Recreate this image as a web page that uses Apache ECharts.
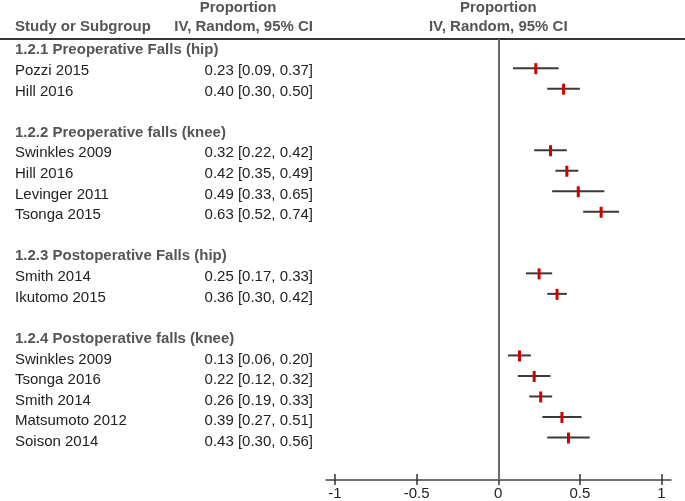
<!DOCTYPE html>
<html>
<head>
<meta charset="utf-8">
<script src="https://cdn.jsdelivr.net/npm/echarts@6/dist/echarts.min.js"></script>
<style>
html,body{margin:0;padding:0;background:#fff;}
#chart{width:685px;height:501px;}
</style>
</head>
<body>
<div id="chart"></div>
<script>
// ---- data ----
var groupTitles = [
  '1.2.1 Preoperative Falls (hip)',
  '1.2.2 Preoperative falls (knee)',
  '1.2.3 Postoperative Falls (hip)',
  '1.2.4 Postoperative falls (knee)'
];
var studyNames = ['Pozzi 2015','Hill 2016',
  'Swinkles 2009','Hill 2016','Levinger 2011','Tsonga 2015',
  'Smith 2014','Ikutomo 2015',
  'Swinkles 2009','Tsonga 2016','Smith 2014','Matsumoto 2012','Soison 2014'];
var studyGroup = [0,0, 1,1,1,1, 2,2, 3,3,3,3,3];
var estimates = [0.23,0.40, 0.32,0.42,0.49,0.63, 0.25,0.36, 0.13,0.22,0.26,0.39,0.43];
var lowerCI   = [0.09,0.30, 0.22,0.35,0.33,0.52, 0.17,0.30, 0.06,0.12,0.19,0.27,0.30];
var upperCI   = [0.37,0.50, 0.42,0.49,0.65,0.74, 0.33,0.42, 0.20,0.32,0.33,0.51,0.56];
var tickValues = [-1,-0.5,0,0.5,1];

// ---- build rows ----
var textItems = []; // [xPos, row, text, kind]
var ciItems = [];   // [lo, hi, est, row]
var row = 0, lastGroup = -1;
for (var i = 0; i < studyNames.length; i++) {
  if (studyGroup[i] !== lastGroup) {
    if (lastGroup !== -1) row++; // blank row
    textItems.push([0, row, groupTitles[studyGroup[i]], 'h']);
    row++;
    lastGroup = studyGroup[i];
  }
  textItems.push([0, row, studyNames[i], 'n']);
  textItems.push([1, row, estimates[i].toFixed(2) + ' [' + lowerCI[i].toFixed(2) + ', ' + upperCI[i].toFixed(2) + ']', 'v']);
  ciItems.push([lowerCI[i], upperCI[i], estimates[i], row]);
  row++;
}

var FONT = '"Liberation Sans", Arial, sans-serif';
var FS = 15;
var yMin = -0.42, yMax = 21.07;
var chart = echarts.init(document.getElementById('chart'));

var option = {
  backgroundColor: '#fff',
  animation: false,
  grid: [
    {left: 326, right: 14, top: 39, bottom: 19},
    {left: 15, right: 372, top: 39, bottom: 19}
  ],
  xAxis: [
    {gridIndex: 0, type: 'value', min: -1.055, max: 1.058, position: 'bottom',
      splitLine: {show: false},
      axisLine: {show: true, onZero: false, lineStyle: {color: '#444', width: 1.5}},
      axisTick: {show: true, length: 5, lineStyle: {color: '#333', width: 1.5}, customValues: tickValues},
      axisLabel: {customValues: tickValues, color: '#222', fontSize: FS, fontFamily: FONT, margin: 6}},
    {gridIndex: 0, type: 'value', min: -1.055, max: 1.058, position: 'bottom',
      splitLine: {show: false},
      axisLine: {show: false, onZero: false},
      axisTick: {show: true, inside: true, length: 6, lineStyle: {color: '#333', width: 1.5}, customValues: tickValues},
      axisLabel: {show: false}},
    {gridIndex: 1, type: 'value', min: 0, max: 1, show: false}
  ],
  yAxis: [
    {gridIndex: 0, type: 'value', min: yMin, max: yMax, inverse: true, show: false},
    {gridIndex: 1, type: 'value', min: yMin, max: yMax, inverse: true, show: false}
  ],
  series: [
    {
      type: 'custom', xAxisIndex: 0, yAxisIndex: 0, silent: true,
      data: ciItems,
      renderItem: function (params, api) {
        var p1 = api.coord([api.value(0), api.value(3)]);
        var p2 = api.coord([api.value(1), api.value(3)]);
        var pe = api.coord([api.value(2), api.value(3)]);
        return {type: 'group', children: [
          {type: 'line', shape: {x1: p1[0], y1: p1[1], x2: p2[0], y2: p2[1]},
            style: {stroke: '#3a3a3a', lineWidth: 2}},
          {type: 'rect', shape: {x: pe[0] - 1.5, y: pe[1] - 5, width: 3, height: 11},
            style: {fill: '#d10000'}}
        ]};
      },
      markLine: {silent: true, symbol: 'none', label: {show: false},
        lineStyle: {color: '#6a6a6a', width: 2, type: 'solid'},
        data: [{xAxis: 0}]}
    },
    {
      type: 'custom', xAxisIndex: 2, yAxisIndex: 1, silent: true,
      data: textItems.map(function (t) { return [t[0], t[1]]; }),
      renderItem: function (params, api) {
        var it = textItems[params.dataIndex];
        var p = api.coord([api.value(0), api.value(1)]);
        var kind = it[3];
        return {type: 'text', x: p[0], y: p[1] + 2.5, style: {
          text: it[2],
          fill: kind === 'h' ? '#555' : '#222',
          fontSize: FS, fontFamily: FONT,
          fontWeight: kind === 'h' ? 'bold' : 'normal',
          align: kind === 'v' ? 'right' : 'left',
          verticalAlign: 'middle'
        }};
      }
    }
  ]
};
chart.setOption(option);

var zeroX = chart.convertToPixel({xAxisIndex: 0}, 0);
var hdrStyle = {fill: '#555', fontSize: FS, fontWeight: 'bold', fontFamily: FONT, verticalAlign: 'middle'};
function hs(extra) { return Object.assign({}, hdrStyle, extra); }
chart.setOption({
  graphic: [
    {type: 'line', shape: {x1: 0, y1: 39, x2: 685, y2: 39}, style: {stroke: '#333', lineWidth: 2}, silent: true},
    {type: 'text', x: 15, y: 27, style: hs({text: 'Study or Subgroup', align: 'left'})},
    {type: 'text', x: 238, y: 8, style: hs({text: 'Proportion', align: 'center'})},
    {type: 'text', x: 313, y: 27, style: hs({text: 'IV, Random, 95% CI', align: 'right'})},
    {type: 'text', x: zeroX, y: 8, style: hs({text: 'Proportion', align: 'center'})},
    {type: 'text', x: zeroX, y: 27, style: hs({text: 'IV, Random, 95% CI', align: 'center'})}
  ]
});
</script>
</body>
</html>
